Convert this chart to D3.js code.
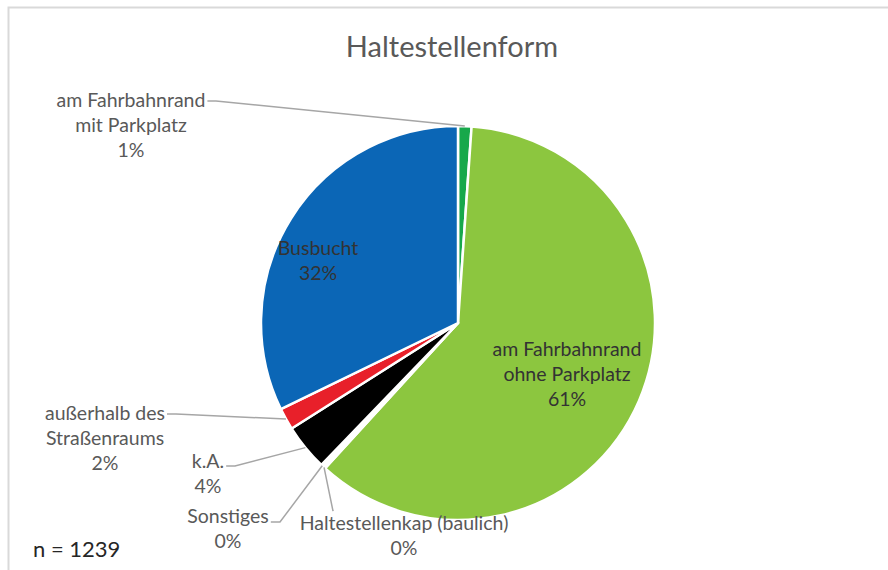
<!DOCTYPE html>
<html>
<head>
<meta charset="utf-8">
<script src="https://cdn.jsdelivr.net/npm/d3@7"></script>
<style>
  html, body { margin: 0; padding: 0; background: #fff; }
  svg { display: block; }
  text { font-family: Lato, "Open Sans", sans-serif; }
</style>
</head>
<body>
<svg id="chart" width="888" height="570"></svg>
<script>
// ---- data ----
const categories = [
  "am Fahrbahnrand mit Parkplatz",
  "am Fahrbahnrand ohne Parkplatz",
  "Haltestellenkap (baulich)",
  "Sonstiges",
  "k.A.",
  "außerhalb des Straßenraums",
  "Busbucht"
];
const values = [1.1, 60.7, 0.2, 0.2, 3.8, 1.8, 32.2];
const percentLabels = ["1%", "61%", "0%", "0%", "4%", "2%", "32%"];
const labelLines = [
  ["am Fahrbahnrand", "mit Parkplatz"],
  ["am Fahrbahnrand", "ohne Parkplatz"],
  ["Haltestellenkap (baulich)"],
  ["Sonstiges"],
  ["k.A."],
  ["außerhalb des", "Straßenraums"],
  ["Busbucht"]
];
const colors = ["#17a84b", "#8cc63f", "#8cc63f", "#8cc63f", "#000000", "#e8202a", "#0b66b6"];
const titleText = "Haltestellenform";
const noteText = "n = 1239";

// ---- layout (positions only) ----
const W = 888, H = 570;
const cx = 458, cy = 323, R = 197;
const FS = 19.5;
const labelLayout = [
  { x: 131, y: 100, inside: false, elbow: [216, 101], side: "left" },
  { x: 567, y: 349, inside: true },
  { x: 404, y: 523, inside: false, elbow: [333, 511], side: "top" },
  { x: 228, y: 516, inside: false, elbow: [280, 522], side: "left" },
  { x: 208, y: 461, inside: false, elbow: [235, 466], side: "left" },
  { x: 105, y: 413, inside: false, elbow: [176, 414], side: "left" },
  { x: 318, y: 248, inside: true }
];
const lineH = 25;

const svg = d3.select("#chart");

// frame
svg.append("rect")
  .attr("x", 8.5).attr("y", 7.5)
  .attr("width", W + 10).attr("height", H + 10)
  .attr("fill", "#fff")
  .attr("stroke", "#d9d9d9").attr("stroke-width", 2);

// title
svg.append("text")
  .attr("x", 452).attr("y", 57)
  .attr("text-anchor", "middle")
  .attr("font-size", 29)
  .attr("fill", "#595959")
  .text(titleText);

const pie = d3.pie().sort(null).value(d => d).startAngle(0).endAngle(2 * Math.PI);
const arcs = pie(values);
const arc = d3.arc().innerRadius(0).outerRadius(R);

const g = svg.append("g").attr("transform", `translate(${cx},${cy})`);
g.selectAll("path.slice")
  .data(arcs)
  .join("path")
  .attr("class", "slice")
  .attr("d", arc)
  .attr("fill", (d, i) => colors[i])
  .attr("stroke", "#fff")
  .attr("stroke-width", 2.5)
  .attr("stroke-linejoin", "round");

function measure(s) {
  const t = svg.append("text").attr("font-size", FS).text(s);
  const w = t.node().getComputedTextLength();
  t.remove();
  return w;
}

// leader lines
function edgePoint(d) {
  const a = (d.startAngle + d.endAngle) / 2;
  return [cx + Math.sin(a) * R, cy - Math.cos(a) * R];
}
arcs.forEach((d, i) => {
  const L = labelLayout[i];
  if (L.inside) return;
  const p = edgePoint(d);
  const textW = measure(labelLines[i][0]);
  let start;
  if (L.side === "left") {
    start = [L.x + textW / 2 + 2, L.elbow[1]];
  } else {
    start = [L.elbow[0], L.y - 13];
  }
  svg.append("path")
    .attr("d", d3.line()([start, L.elbow, p]))
    .attr("fill", "none")
    .attr("stroke", "#a6a6a6")
    .attr("stroke-width", 1.5);
});

// labels
arcs.forEach((d, i) => {
  const L = labelLayout[i];
  const lines = labelLines[i].concat([percentLabels[i]]);
  const t = svg.append("text")
    .attr("text-anchor", "middle")
    .attr("font-size", FS)
    .attr("fill", L.inside ? "#333333" : "#595959");
  lines.forEach((s, k) => {
    t.append("tspan")
      .attr("x", L.x)
      .attr("y", L.y + 7 + k * lineH)
      .text(s);
  });
});

// note
svg.append("text")
  .attr("x", 33).attr("y", 557)
  .attr("font-size", 22)
  .attr("fill", "#262626")
  .text(noteText);
</script>
</body>
</html>
